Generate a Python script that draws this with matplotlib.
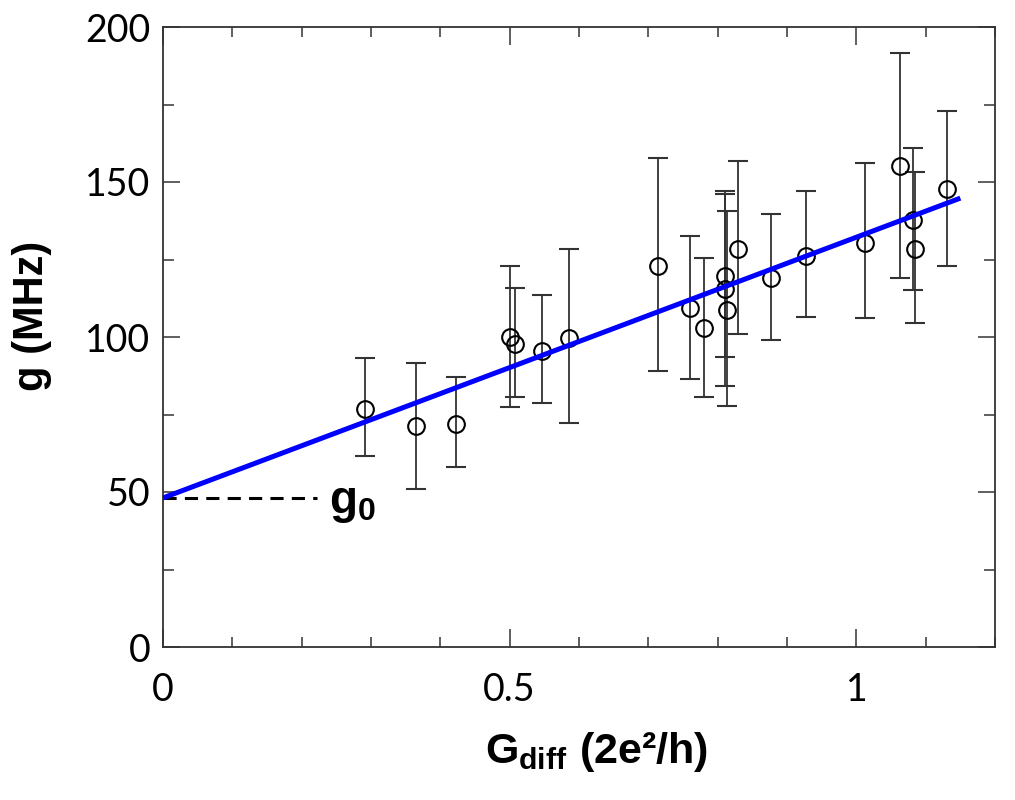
import numpy as np
import matplotlib
matplotlib.use('Agg')
import matplotlib.pyplot as plt
from matplotlib.ticker import MultipleLocator

# data
g_diff = [0.292, 0.365, 0.423, 0.501, 0.507, 0.546, 0.585, 0.714, 0.760, 0.781,
          0.811, 0.811, 0.814, 0.829, 0.877, 0.928, 1.013, 1.063, 1.082, 1.084, 1.131]
g_val = [76.8, 71.3, 71.9, 100.1, 97.6, 95.6, 99.6, 123.0, 109.5, 102.8,
         119.7, 115.4, 108.7, 128.4, 118.9, 126.2, 130.2, 155.2, 137.6, 128.4, 147.7]
g_top = [93.1, 91.7, 87.1, 123.0, 115.7, 113.4, 128.3, 157.6, 132.7, 125.5,
         147.2, 146.0, 140.7, 156.8, 139.6, 147.0, 156.2, 191.7, 160.9, 153.1, 173.0]
g_bot = [61.7, 51.1, 58.1, 77.4, 80.6, 78.8, 72.4, 89.0, 86.6, 80.6,
         93.5, 84.3, 77.8, 101.0, 99.0, 106.6, 106.0, 119.0, 115.2, 104.6, 123.0]

fit_x = [0.0, 1.15]
fit_y = [48.1, 144.8]

g0_x = [0.0, 0.222]
g0_y = [48.1, 48.1]

plt.rcParams['mathtext.fontset'] = 'custom'
plt.rcParams['mathtext.rm'] = 'Liberation Sans:bold'
plt.rcParams['mathtext.it'] = 'Liberation Sans:bold'
plt.rcParams['mathtext.bf'] = 'Liberation Sans:bold'

fig = plt.figure(figsize=(10.15, 8), dpi=100)
ax = fig.add_axes([0.1606, 0.19125, 0.8197, 0.775])

y = np.array(g_val)
yerr = [y - np.array(g_bot), np.array(g_top) - y]
ax.errorbar(g_diff, g_val, yerr=yerr, fmt='o', mfc='none', mec='black', ms=12, mew=1.5,
            ecolor='#333333', elinewidth=1.3, capsize=7, capthick=1.3, zorder=3)

ax.plot(fit_x, fit_y, color='#0000ff', lw=3.6, zorder=4, solid_capstyle='butt')
ax.plot(g0_x, g0_y, color='black', lw=2.2, ls=(0, (4.3, 2.7)), zorder=2)
ax.text(0.24, 46.5, r'$g_0$', fontsize=33, va='center', ha='left')

ax.set_xlim(0, 1.2)
ax.set_ylim(0, 200)
ax.xaxis.set_major_locator(MultipleLocator(0.5))
ax.xaxis.set_minor_locator(MultipleLocator(0.1))
ax.yaxis.set_major_locator(MultipleLocator(50))
ax.yaxis.set_minor_locator(MultipleLocator(25))
ax.set_xticks([0, 0.5, 1])
ax.set_xticklabels(['0', '0.5', '1'])

for s in ax.spines.values():
    s.set_color('#333333')
    s.set_linewidth(1.3)
ax.tick_params(which='both', direction='in', top=True, right=True, color='#444444', width=1.2)
ax.tick_params(axis='x', which='major', length=13, pad=18)
ax.tick_params(axis='x', which='minor', length=7)
ax.tick_params(axis='y', which='major', length=12, pad=9)
ax.tick_params(axis='y', which='minor', length=8)
for lab in ax.get_xticklabels() + ax.get_yticklabels():
    lab.set_family('Lato')
    lab.set_fontsize(27)

fig.text(0.588, 1 - 752 / 800, r'$G_{diff}\ (2e²/h)$', fontsize=31, ha='center', va='center')
fig.text(0.032, 1 - 316 / 800, 'g (MHz)', fontsize=30, fontweight='bold', family='Liberation Sans',
         rotation=90, ha='center', va='center')

fig.savefig('out.png', dpi=100)
